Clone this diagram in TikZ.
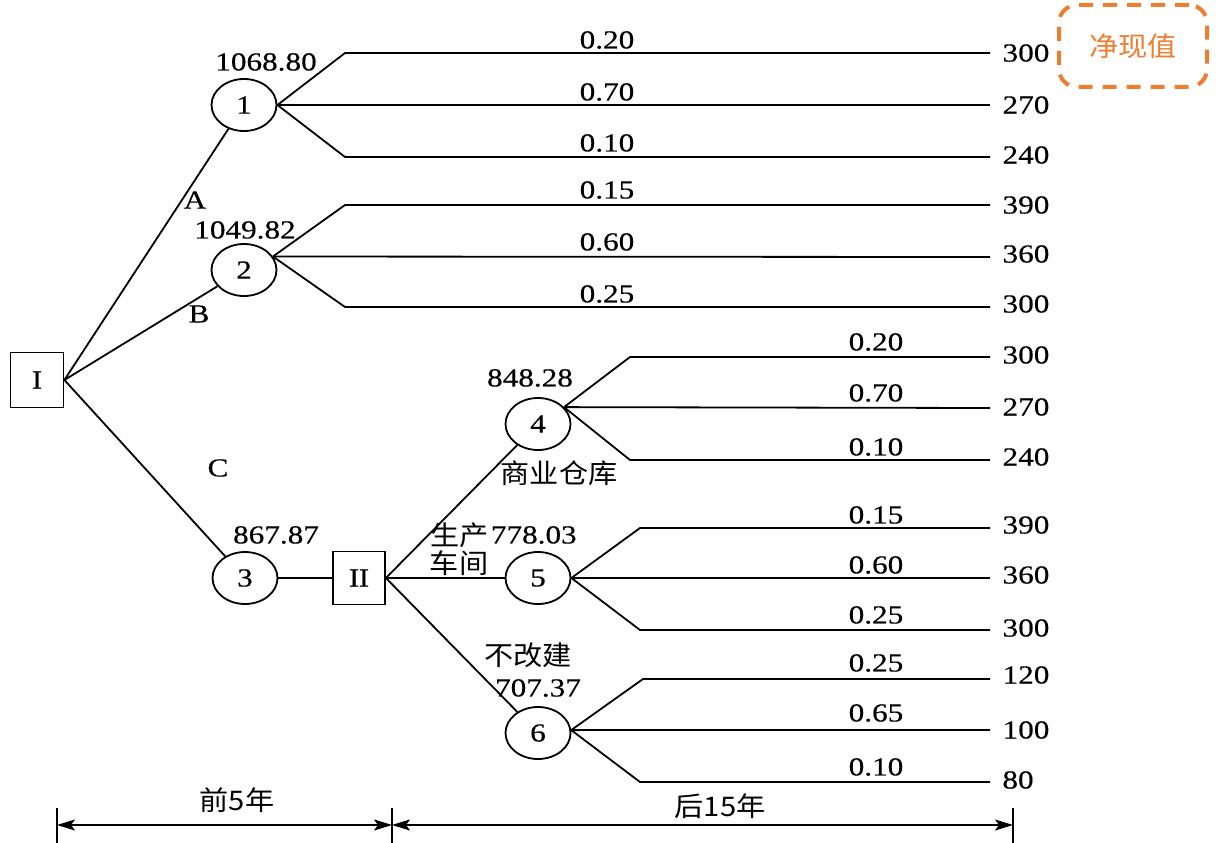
\documentclass[tikz,border=0pt]{standalone}
\usepackage{fontspec}
\setmainfont{Liberation Serif}[FakeStretch=1.2,FakeBold=0.4]
\newfontfamily\cjk{Noto Sans CJK SC}[FakeStretch=1.08]
\usetikzlibrary{arrows.meta,shapes.geometric}
\definecolor{noteorange}{RGB}{237,125,49}
\begin{document}
\begin{tikzpicture}[x=1pt,y=-1pt,line width=1.8pt,
  every node/.style={font=\fontsize{26}{28}\selectfont,inner sep=0pt},
  chance/.style={draw,ellipse,minimum width=65pt,minimum height=52pt},
  decision/.style={draw,rectangle,minimum width=53pt,minimum height=55pt},
  zh/.style={font=\fontsize{27}{29}\selectfont\cjk},
  dimarrow/.style={arrows={Stealth[length=18pt,width=11pt,inset=4pt]-Stealth[length=18pt,width=11pt,inset=4pt]}}]
\useasboundingbox (0,0) rectangle (1224,843);

% nodes
\node[decision] (I) at (37,380) {I};
\node[chance] (c1) at (244,105) {1};
\node[chance] (c2) at (244,270) {2};
\node[chance] (c3) at (245,578) {3};
\node[decision,minimum width=52pt,minimum height=53pt] (II) at (359,578) {I\kern-0.5ptI};
\node[chance] (c4) at (538,424) {4};
\node[chance] (c5) at (538,578) {5};
\node[chance] (c6) at (538,733) {6};

% main connectors
\draw (I.east) -- (c1);
\draw (I.east) -- (c2);
\draw (I.east) -- (c3);
\draw (c3) -- (II);
\draw (II.east) -- (c4);
\draw (II.east) -- (c5.west);
\draw (II.east) -- (c6);

% end coordinates
\coordinate (e1a) at (990,53);  \coordinate (e1b) at (990,105); \coordinate (e1c) at (990,157);
\coordinate (e2a) at (990,205); \coordinate (e2b) at (990,257); \coordinate (e2c) at (990,307);
\coordinate (e4a) at (990,357); \coordinate (e4b) at (990,408); \coordinate (e4c) at (990,460);
\coordinate (e5a) at (990,528); \coordinate (e5b) at (990,578); \coordinate (e5c) at (990,630);
\coordinate (e6a) at (990,679); \coordinate (e6b) at (990,730); \coordinate (e6c) at (990,782);

% branches
\draw (c1.east) -- (345,53) -- (e1a);
\draw (c1.east) -- (e1b);
\draw (c1.east) -- (345,157) -- (e1c);
\draw (c2.25) -- (345,205) -- (e2a);
\draw (c2.25) -- (e2b);
\draw (c2.25) -- (345,307) -- (e2c);
\draw (c4.33) -- (630,357) -- (e4a);
\draw (c4.33) -- (e4b);
\draw (c4.33) -- (630,460) -- (e4c);
\draw (c5.east) -- (640,528) -- (e5a);
\draw (c5.east) -- (e5b);
\draw (c5.east) -- (640,630) -- (e5c);
\draw (c6.5) -- (643,679) -- (e6a);
\draw (c6.5) -- (e6b);
\draw (c6.5) -- (640,782) -- (e6c);

% probability labels
\node (p1a) at (607,40) {0.20};
\node (p1b) at (607,92) {0.70};
\node (p1c) at (607,143) {0.10};
\node (p2a) at (607,190) {0.15};
\node (p2b) at (607,242) {0.60};
\node (p2c) at (607,294) {0.25};
\node (p4a) at (876,342) {0.20};
\node (p4b) at (876,393) {0.70};
\node (p4c) at (876,447) {0.10};
\node (p5a) at (876,515) {0.15};
\node (p5b) at (876,565) {0.60};
\node (p5c) at (876,615) {0.25};
\node (p6a) at (876,663) {0.25};
\node (p6b) at (876,713) {0.65};
\node (p6c) at (876,767) {0.10};

% values
\node (v1a) at (1026,53) {300};
\node (v1b) at (1026,105) {270};
\node (v1c) at (1026,155) {240};
\node (v2a) at (1026,205) {390};
\node (v2b) at (1026,254) {360};
\node (v2c) at (1026,304) {300};
\node (v4a) at (1026,355) {300};
\node (v4b) at (1026,407) {270};
\node (v4c) at (1026,457) {240};
\node (v5a) at (1026,525) {390};
\node (v5b) at (1026,575) {360};
\node (v5c) at (1026,628) {300};
\node (v6a) at (1026,675) {120};
\node (v6b) at (1026,730) {100};
\node (v6c) at (1018,780) {80};

% node value labels
\node (n1) at (266,62) {1068.80};
\node (la) at (195,200) {A};
\node (n2) at (245,230) {1049.82};
\node (lb) at (199,314) {B};
\node (lc) at (218,468) {C};
\node (n3) at (276,535) {867.87};
\node (n4) at (530,378) {848.28};
\node[zh] (t4) at (559,473) {商业仓库};
\node[zh,anchor=east] (t5a) at (490,535) {生产};
\node[anchor=west] (n5) at (490,535) {778.03};
\node[zh] (t5b) at (459,563) {车间};
\node[zh] (t6) at (528,655) {不改建};
\node (n6) at (538,688) {707.37};

% time axis
\coordinate (L) at (57,825);
\coordinate (M) at (392,825);
\coordinate (R) at (1013,825);
\draw (57,808) -- (57,843);
\draw (392,808) -- (392,843);
\draw (1013,808) -- (1013,843);
\draw[dimarrow] (L) -- (M);
\draw[dimarrow] (M) -- (R);
\node[zh] (y1) at (237,800) {前5年};
\node[zh] (y2) at (720,806) {后15年};

% note box
\node[draw=noteorange,text=noteorange,line width=4pt,dash pattern=on 14pt off 10pt,
  rounded corners=18pt,minimum width=148pt,minimum height=82pt,
  font=\fontsize{27}{29}\selectfont\cjk] (note) at (1133,46) {净现值};
\end{tikzpicture}
\end{document}
